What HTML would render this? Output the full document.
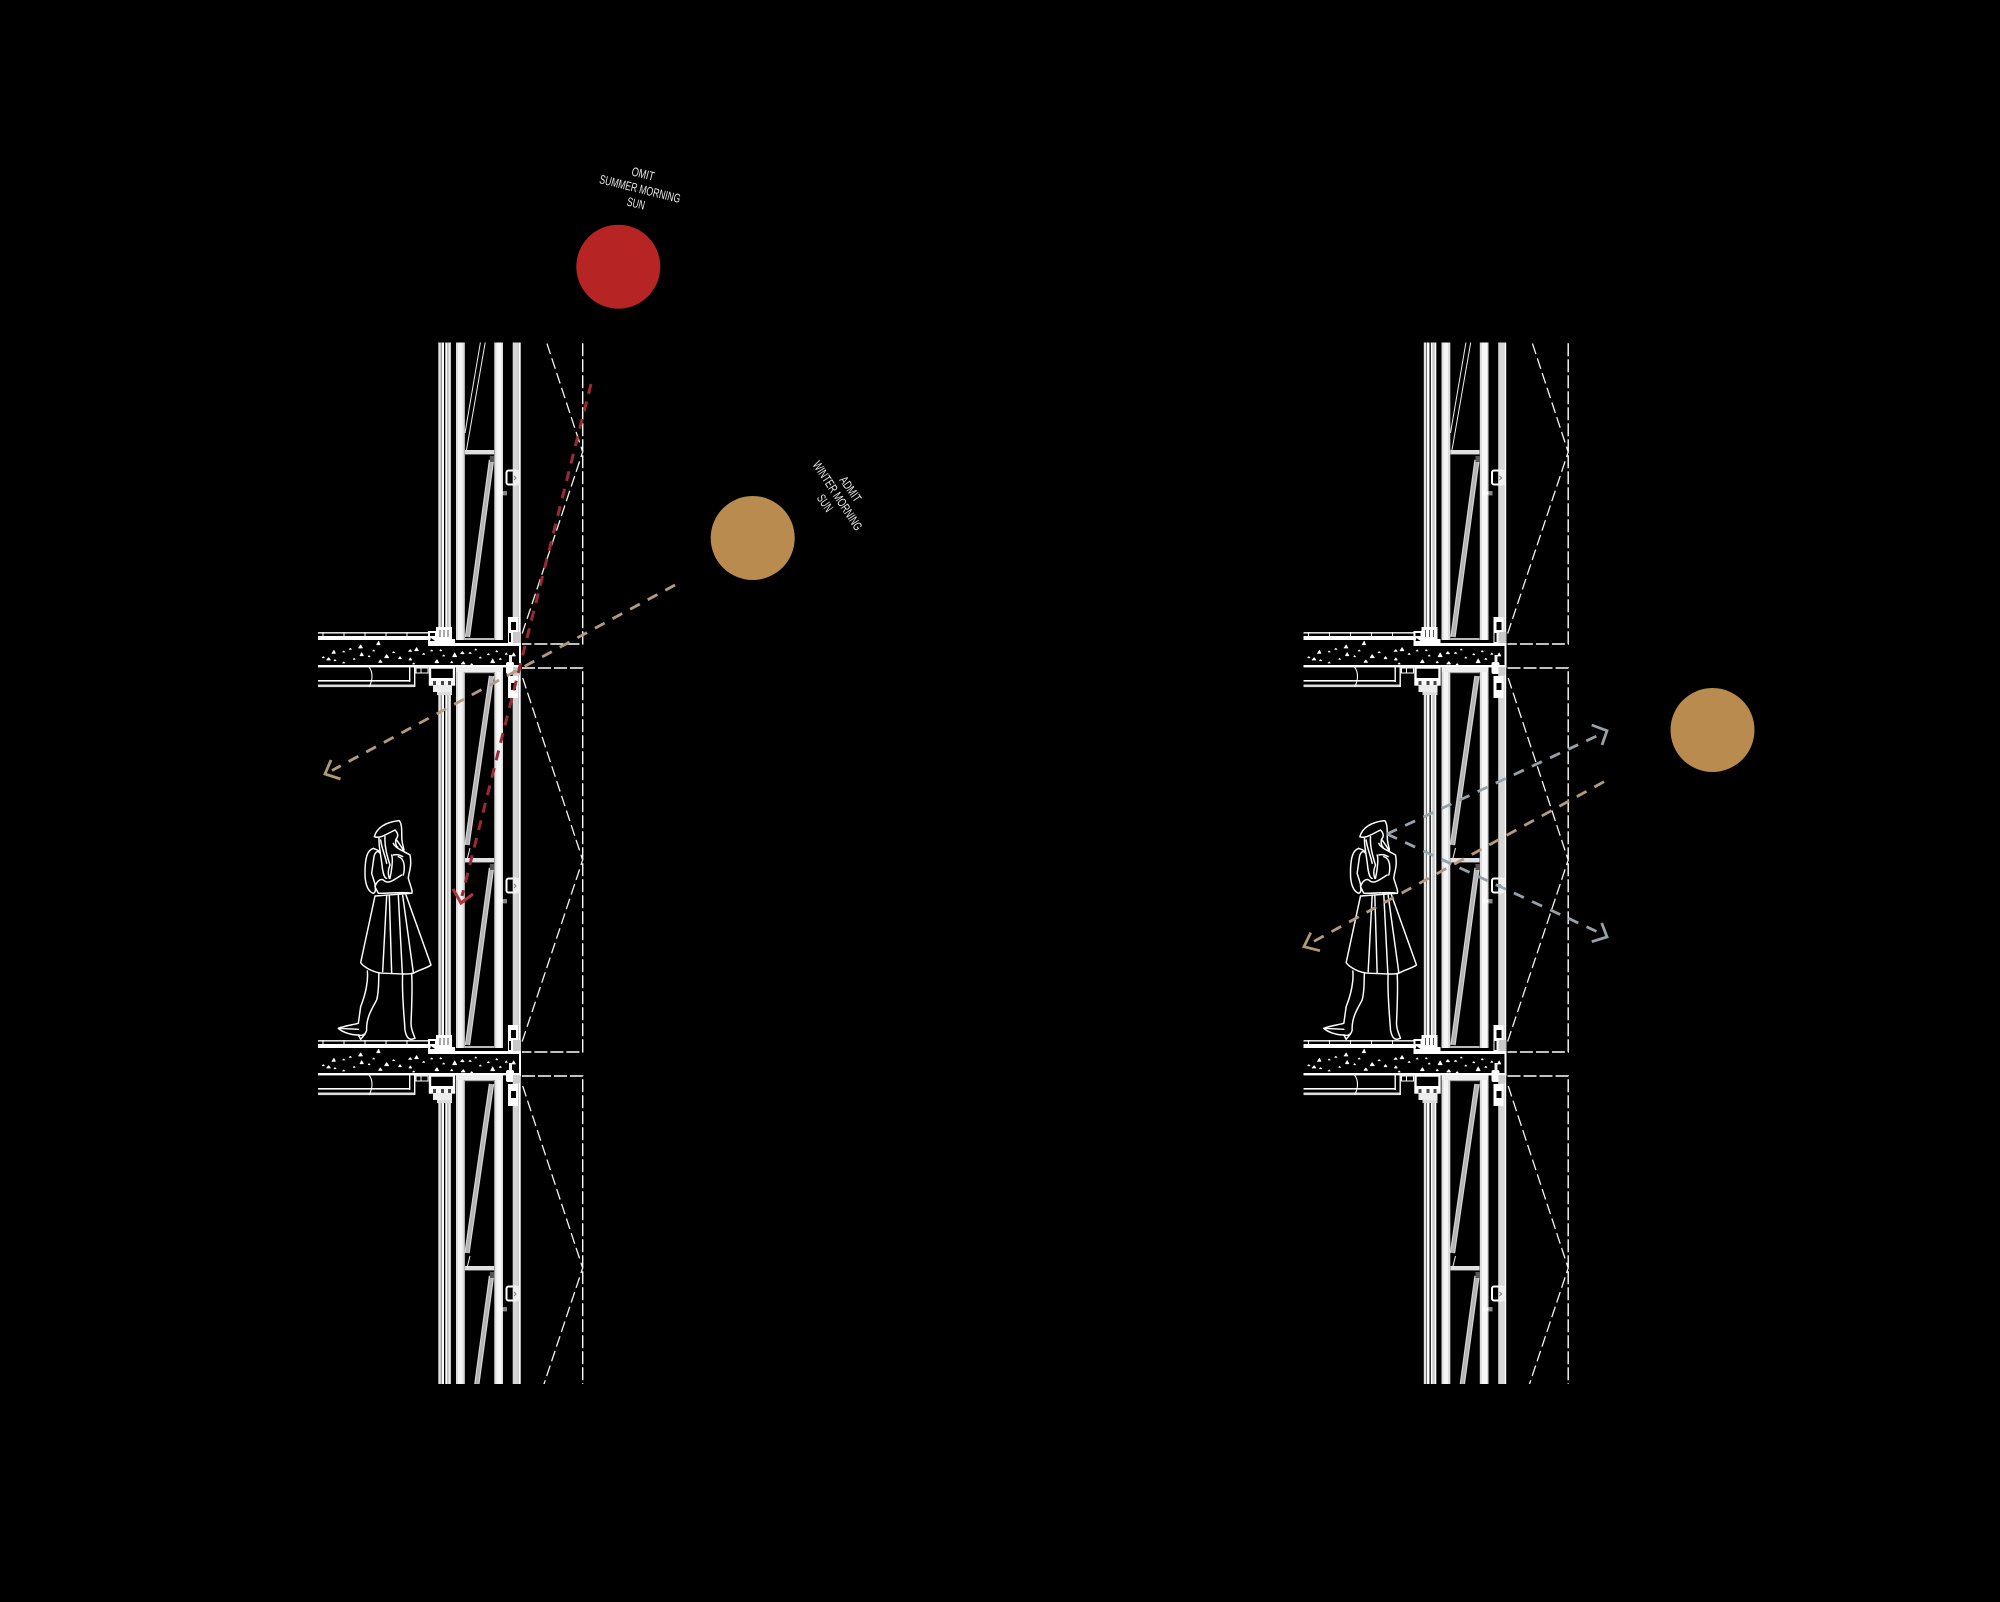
<!DOCTYPE html>
<html><head><meta charset="utf-8"><title>Facade sun study</title>
<style>html,body{margin:0;padding:0;background:#000}svg{display:block}text{font-family:"Liberation Sans Narrow","Liberation Sans",sans-serif;fill:#e8e8e8;font-size:12.5px;text-anchor:middle}</style></head>
<body>
<svg xmlns="http://www.w3.org/2000/svg" width="2000" height="1602" viewBox="0 0 2000 1602">
<defs>
<clipPath id="c"><rect x="300" y="342.5" width="300" height="1041.5"/></clipPath>
<g id="mod">
  <!-- floor above slab -->
  <rect x="318" y="632" width="110" height="1.6" fill="#ddd"/>
  <rect x="318" y="636" width="112" height="4" fill="#fff"/>
  <path d="M323,632V636M344,632V636M365,632V636M386,632V636M407,632V636" stroke="#fff" stroke-width="1"/>
  <!-- slab -->
  <rect x="318" y="640" width="203" height="25" fill="#000"/>
  <rect x="428" y="643" width="93" height="3" fill="#fff"/>
  <rect x="318" y="665" width="203" height="2.4" fill="#fff"/>
  <rect x="519" y="640" width="2" height="28" fill="#fff"/>
  <g transform="translate(300,620) scale(.3333)" fill="#fff" stroke="#fff" stroke-width="2.5" stroke-linejoin="round">
    <path d="M176,84l6,-9l5,9zM96,100l6,-9l4,9zM230,74l6,-10l4,10zM128,96l3,-3l3,3zM254,113l6,-9l6,9zM180,107l5,-9l5,9zM80,120l6,-7l5,7zM236,127l5,-7l5,7zM344,92l6,-9l5,9zM326,94l5,-5l4,5zM296,116l4,-6l4,6zM327,120l4,-6l4,6zM405,128l6,-9l5,9zM392,93l3,-3l3,3zM458,110l6,-11l6,11zM482,101l5,-6l5,6zM507,100l3,-3l4,3zM562,104l3,-3l3,3zM616,103l3,-4l3,4zM636,108l5,-9l5,9zM572,128l6,-11l6,11zM484,132l6,-7l5,7zM452,128l3,-4l3,4zM428,108l3,-3l3,3zM148,88l3,-3l3,3zM67,113l3,-3l3,3zM102,122l3,-3l3,3zM218,93l3,-3l3,3zM278,98l3,-3l3,3zM368,103l3,-3l3,3zM538,114l3,-3l3,3zM598,118l3,-3l3,3zM512,134l3,-3l3,3zM338,132l3,-3l3,3zM128,129l3,-3l3,3zM160,118l2,-3l3,3zM205,110l2,-3l3,3zM420,92l2,-3l3,3zM525,90l2,-3l3,3zM588,95l2,-3l3,3z"/>
  </g>
  <!-- ceiling -->
  <rect x="318" y="680" width="92" height="1.6" fill="#fff"/>
  <rect x="318" y="684.5" width="97" height="2.6" fill="#ddd"/>
  <rect x="409" y="667" width="1.4" height="15" fill="#fff"/>
  <rect x="414" y="667" width="1.4" height="20" fill="#fff"/>
  <path d="M369,667C373,672 373,680 369,687" stroke="#fff" stroke-width="1.1" fill="none"/>
  <path d="M416,668h12v5h-12zM421,668v5" stroke="#fff" stroke-width="1" fill="none"/>
  <!-- interior node above slab -->
  <path d="M428,631h8v12h-8z" fill="#fff"/>
  <path d="M430,633h5v3h-5zM431,638l4,3h-5z" fill="#000"/>
  <rect x="436" y="627" width="16" height="16" fill="#fff"/>
  <path d="M440,630v7M444,630v7M448,630v7" stroke="#555" stroke-width="1"/>
  <rect x="436" y="639" width="19" height="4" fill="#fff"/>
  <!-- interior node below slab -->
  <rect x="430" y="667.5" width="24" height="17" fill="#000" stroke="#fff" stroke-width="2.4"/>
  <rect x="430" y="678" width="24" height="7" fill="#fff"/>
  <rect x="433" y="685" width="19" height="7" fill="#ededed"/>
  <path d="M433,681h3v4h-3zM441,681h3v4h-3zM448,681h3v4h-3z" fill="#444"/>
  <rect x="437" y="692" width="15" height="3" fill="#ddd"/>
  <!-- window frame -->
  <rect x="456" y="667" width="47" height="5" fill="#eee"/>
  <rect x="465" y="672" width="29" height="1.2" fill="#aaa"/>
  <rect x="465" y="858" width="29" height="4.4" fill="#e0e0e0"/>
  <rect x="465" y="1046" width="29" height="2" fill="#bbb"/>
  <rect x="456" y="1048" width="47" height="6" fill="#f2f2f2"/>
  <!-- lower pane -->
  <path d="M491.500,868L467.500,1045" stroke="#b4b4b4" stroke-width="5.400"/>
  <path d="M489.500,868L465.500,1045M493.500,868L469.500,1045" stroke="#dcdcdc" stroke-width=".8"/>
  <rect x="490" y="864" width="4" height="6" fill="#555"/>
  <!-- exterior bracket -->
  <rect x="506.500" y="878.500" width="11" height="14" rx="2" fill="#000" stroke="#fff" stroke-width="2"/>
  <rect x="512.700" y="878" width="7" height="15" fill="#eee"/>
  <path d="M514,884l2,2l-2,2" stroke="#777" stroke-width="1" fill="none"/>
  <rect x="497" y="899.500" width="10" height="3" fill="#fff"/>
  <rect x="503" y="900" width="4" height="3.400" fill="#888"/>
  <!-- edge brackets -->
  <rect x="508" y="617" width="10" height="26" fill="#fff"/>
  <rect x="511" y="622" width="5" height="8" fill="#000"/>
  <path d="M509,633h2v9h-2z" fill="#000"/>
  <rect x="513" y="632" width="8" height="11" fill="#c8c8c8"/>
  <rect x="506" y="662" width="8" height="12" rx="2" fill="#fff"/>
  <rect x="509" y="655" width="3" height="8" fill="#eee"/>
  <rect x="508" y="676" width="10" height="22" fill="#fff"/>
  <rect x="511" y="683" width="5" height="7" fill="#000"/>
  <rect x="513" y="667" width="7" height="8" fill="#ccc"/>
  <!-- screen -->
  <path d="M522,668H582.700V1052H522" fill="none" stroke="#fff" stroke-width="1.400" stroke-dasharray="13 3"/>
  <path d="M522.700,678L582.700,860L522,1042" fill="none" stroke="#f4f4f4" stroke-width="1.300" stroke-dasharray="11 4.500"/>
</g>
<g id="wall">
  <g clip-path="url(#c)">
    <rect x="438.300" y="342" width="2.600" height="1042" fill="#e2e2e2"/>
    <rect x="441.400" y="342" width="2.600" height="1042" fill="#fff"/>
    <rect x="445.300" y="342" width="1.800" height="1042" fill="#fff"/>
    <rect x="447.100" y="342" width="2" height="1042" fill="#ccc"/>
    <rect x="449.100" y="342" width="1.700" height="1042" fill="#fff"/>
    <rect x="456" y="342" width="8.800" height="1042" fill="#dcdcdc"/>
    <rect x="458" y="342" width="4.500" height="1042" fill="#f4f4f4"/>
    <rect x="494.300" y="342" width="8.700" height="1042" fill="#dedede"/>
    <rect x="496.500" y="342" width="5" height="1042" fill="#f8f8f8"/>
    <rect x="512.700" y="342" width="6" height="1042" fill="#d6d6d6"/>
    <rect x="518.700" y="342" width="2" height="1042" fill="#fff"/>
    <use href="#mod" y="-408"/>
    <use href="#mod"/>
    <use href="#mod" y="408"/>
    <!-- top upper pane: thin lines -->
    <path d="M480.500,342L465,433M485.300,342L466.500,450" stroke="#eee" stroke-width="1" fill="none"/>
    <!-- middle upper pane -->
    <path d="M491.500,676L467,845" stroke="#b4b4b4" stroke-width="5.400" fill="none"/>
    <path d="M489.500,676L465,845M493.500,676L469,845" stroke="#dcdcdc" stroke-width=".8" fill="none"/>
    <path d="M470,848L467,860" stroke="#eee" stroke-width="1" fill="none"/>
    <!-- bottom upper pane -->
    <path d="M491.500,1084L467,1253" stroke="#b4b4b4" stroke-width="5.400" fill="none"/>
    <path d="M489.500,1084L465,1253M493.500,1084L469,1253" stroke="#dcdcdc" stroke-width=".8" fill="none"/>
    <path d="M470,1256L467,1268" stroke="#eee" stroke-width="1" fill="none"/>
  </g>
  <!-- woman -->
  <g transform="translate(330,810) scale(.3333)" fill="none" stroke="#fff" stroke-width="4.400" stroke-linejoin="round" stroke-linecap="round">
    <path d="M133,80C140,55 165,36 208,32C218,45 214,70 216,92C218,105 220,112 222,120M133,80C150,87 170,72 195,60M195,60C205,70 205,80 198,88M198,88C195,98 198,108 203,112"/>
    <path d="M147,85C146,110 152,130 156,165C158,185 163,205 170,205M165,80C163,110 172,140 180,165C172,185 175,195 178,205M152,90C155,115 165,135 170,160"/>
    <path d="M130,115C115,120 105,135 105,190C105,225 115,245 130,250C140,245 135,235 135,222L125,190L132,140C135,125 145,120 150,130M130,115C135,118 145,118 150,128"/>
    <path d="M190,100C195,115 225,125 240,135C247,170 235,190 235,205C240,225 250,245 245,250C220,245 190,250 145,250L135,230C140,215 150,205 160,210C175,225 190,210 215,195"/>
    <path d="M200,90C205,98 215,110 222,125M185,135C190,150 185,180 180,205M205,140C225,145 225,175 220,195M190,135C200,132 210,135 218,140"/>
    <path d="M135,258L245,250M135,258L92,458C100,470 130,490 165,490C195,490 230,495 250,490C265,480 290,475 303,465L228,255"/>
    <path d="M170,258L158,485M178,258L185,490M205,256L217,490M218,256L250,488"/>
    <path d="M112,483C115,510 108,550 92,590L85,640C65,645 35,650 25,655C35,665 60,675 85,675C100,680 108,670 110,660C108,620 130,590 140,570C148,540 145,510 147,488"/>
    <path d="M218,490C215,550 222,610 225,660C228,675 232,688 245,688L255,685C250,670 243,660 243,640C245,590 248,540 245,490"/>
    <path d="M85,675L92,688L105,672M25,655L85,658"/>
  </g>
</g>
</defs>
<rect width="2000" height="1602" fill="#000"/>
<use href="#wall"/>
<use href="#wall" x="985.500"/>

<!-- left diagram -->
<circle cx="618.300" cy="266.700" r="42" fill="#b62424"/>
<circle cx="752.700" cy="538" r="42" fill="#b98b4e"/>
<path d="M675,585L332,770.500" stroke="#b39a80" stroke-width="2.800" stroke-dasharray="11 9" fill="none"/>
<path d="M331,760L325,774L340.500,779" stroke="#b39a70" stroke-width="2.800" fill="none"/>
<path d="M591,384L462,896" stroke="#9c2a33" stroke-width="3" stroke-dasharray="10 8" fill="none"/>
<path d="M453,889L461,903L473,894" stroke="#b5323a" stroke-width="3" fill="none"/>

<text transform="translate(642,178) rotate(14)" textLength="23" lengthAdjust="spacingAndGlyphs">OMIT</text>
<text transform="translate(639,193) rotate(14)" textLength="83" lengthAdjust="spacingAndGlyphs">SUMMER MORNING</text>
<text transform="translate(635,207.500) rotate(14)" textLength="18" lengthAdjust="spacingAndGlyphs">SUN</text>
<text transform="translate(847,491.500) rotate(55)" textLength="28" lengthAdjust="spacingAndGlyphs">ADMIT</text>
<text transform="translate(834,498) rotate(57)" textLength="80" lengthAdjust="spacingAndGlyphs">WINTER MORNING</text>
<text transform="translate(821.500,505.500) rotate(55)" textLength="18" lengthAdjust="spacingAndGlyphs">SUN</text>

<!-- right diagram -->
<circle cx="1712.500" cy="730" r="42" fill="#b98b4e"/>
<path d="M1604,781.700L1311,943" stroke="#b39a80" stroke-width="2.800" stroke-dasharray="11 9" fill="none"/>
<path d="M1310.700,932.700L1304,946.700L1320,950.700" stroke="#b39a70" stroke-width="2.800" fill="none"/>
<path d="M1387,834L1601,734" stroke="#95a2a8" stroke-width="2.800" stroke-dasharray="11 9" fill="none"/>
<path d="M1591.700,725L1607,730.700L1602,745" stroke="#95a2a8" stroke-width="2.800" fill="none"/>
<path d="M1387,834L1601,933.500" stroke="#95a2a8" stroke-width="2.800" stroke-dasharray="11 9" fill="none"/>
<path d="M1601.700,923L1607,937L1591.700,941.700" stroke="#95a2a8" stroke-width="2.800" fill="none"/>
</svg>
</body></html>
